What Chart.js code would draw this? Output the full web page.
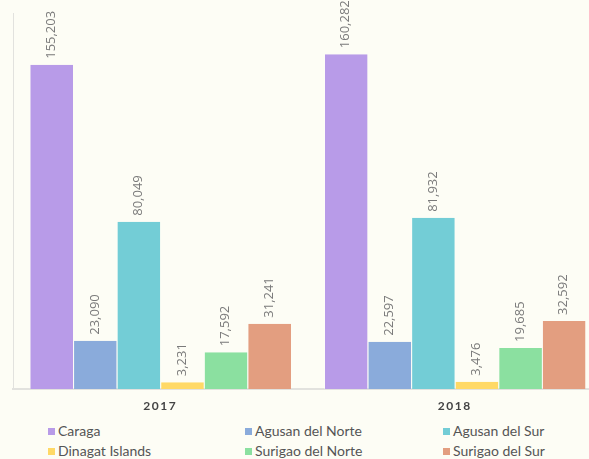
<!DOCTYPE html>
<html>
<head>
<meta charset="utf-8">
<script src="https://cdn.jsdelivr.net/npm/chart.js@4"></script>
<style>
  html, body { margin: 0; padding: 0; background: #fdfdf5; overflow: hidden; }
  #wrap { position: relative; width: 602px; height: 420px; }
  #legend { position: absolute; left: 0; top: 420px; width: 589px; font-family: "Lato", "Open Sans", sans-serif; font-size: 14px; color: #555; }
  .li { position: absolute; white-space: nowrap; line-height: 16px; }
  .li span.box { display: inline-block; width: 7px; height: 7px; margin-right: 3px; vertical-align: 1px; }
</style>
</head>
<body>
<div id="wrap"><canvas id="c" width="602" height="420"></canvas></div>
<div id="legend"></div>
<script>
const categories = ["2017", "2018"];
const seriesNames = ["Caraga", "Agusan del Norte", "Agusan del Sur", "Dinagat Islands", "Surigao del Norte", "Surigao del Sur"];
const caraga = [155203, 160282];
const agusanNorte = [23090, 22597];
const agusanSur = [80049, 81932];
const dinagat = [3231, 3476];
const surigaoNorte = [17592, 19685];
const surigaoSur = [31241, 32592];
const colors = ["#b89be8", "#8aabdb", "#73cdd6", "#ffd966", "#8be0a0", "#e39e80"];

const seriesValues = [caraga, agusanNorte, agusanSur, dinagat, surigaoNorte, surigaoSur];

const labelPlugin = {
  id: 'vlabels',
  beforeDraw(chart) { chart.ctx.letterSpacing = '1.5px'; },
  afterDatasetsDraw(chart) {
    const ctx = chart.ctx;
    ctx.save();
    ctx.letterSpacing = '0px';
    ctx.font = '13px "Open Sans", sans-serif';
    ctx.fillStyle = '#7a7a7a';
    ctx.textAlign = 'left';
    ctx.textBaseline = 'middle';
    chart.data.datasets.forEach((ds, i) => {
      const meta = chart.getDatasetMeta(i);
      meta.data.forEach((bar, j) => {
        const v = ds.data[j];
        ctx.save();
        ctx.translate(bar.x, bar.y - 6);
        ctx.rotate(-Math.PI / 2);
        ctx.fillText(v.toLocaleString('en-US'), 0, 0);
        ctx.restore();
      });
    });
    ctx.restore();
  }
};

const chart = new Chart(document.getElementById('c'), {
  type: 'bar',
  data: {
    labels: categories,
    datasets: seriesNames.map((n, i) => ({
      label: n,
      data: seriesValues[i],
      backgroundColor: colors[i],
      borderColor: 'rgba(255,255,255,0.35)',
      borderWidth: { left: 1, right: 0, top: 0, bottom: 0 },
      categoryPercentage: 0.888,
      barPercentage: 1.0
    }))
  },
  options: {
    responsive: false,
    animation: false,
    events: [],
    layout: { padding: { left: 13, top: 13, right: 0, bottom: 0 } },
    plugins: { legend: { display: false }, tooltip: { enabled: false } },
    scales: {
      x: {
        grid: { display: false, drawTicks: false },
        border: { display: true, color: '#e2e2de', width: 2 },
        ticks: { color: '#444', font: { family: 'Lato, sans-serif', size: 12, weight: 'bold' }, padding: 10 },
        afterFit(scale) { scale.height = 31; }
      },
      y: {
        min: 0, max: 180000,
        grid: { display: false, drawTicks: false },
        border: { display: true, color: '#e2e2de', width: 1 },
        ticks: { display: false },
        afterFit(scale) { scale.width = 0; }
      }
    }
  },
  plugins: [labelPlugin]
});

const leg = document.getElementById('legend');
const cols = [48, 245, 443];
seriesNames.forEach((n, i) => {
  const d = document.createElement('div');
  d.className = 'li';
  d.style.left = cols[i % 3] + 'px';
  d.style.top = (i < 3 ? 3 : 23) + 'px';
  d.innerHTML = '<span class="box" style="background:' + colors[i] + '"></span>' + n;
  leg.appendChild(d);
});
</script>
</body>
</html>
